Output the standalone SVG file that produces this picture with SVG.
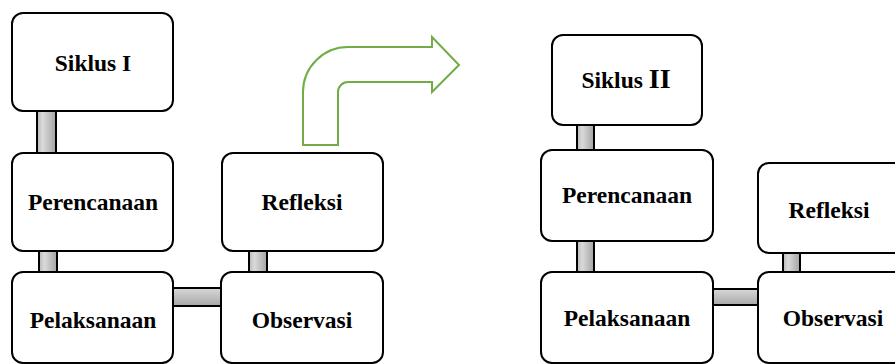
<svg xmlns="http://www.w3.org/2000/svg" width="895" height="364" viewBox="0 0 895 364">
<defs>
<linearGradient id="gv" x1="0" y1="0" x2="1" y2="0">
<stop offset="0" stop-color="#b8b8b8"/><stop offset="0.3" stop-color="#dadada"/><stop offset="1" stop-color="#a4a4a4"/>
</linearGradient>
<linearGradient id="gh" x1="0" y1="0" x2="0" y2="1">
<stop offset="0" stop-color="#d8d8d8"/><stop offset="0.4" stop-color="#c4c4c4"/><stop offset="1" stop-color="#a8a8a8"/>
</linearGradient>
</defs>
<style>
.box{fill:#fff;stroke:#000;stroke-width:2}
.cv{fill:url(#gv);stroke:#000;stroke-width:2}
.ch{fill:url(#gh);stroke:#000;stroke-width:2}
.t{font-family:"Liberation Serif","Times New Roman",serif;font-weight:bold;font-size:23.5px;text-anchor:middle;fill:#000}
.big{font-size:28px}
</style>
<rect width="895" height="364" fill="#fff"/>
<g id="connectors">
<rect class="cv" x="37" y="111" width="19" height="42"/>
<rect class="cv" x="39" y="251" width="18" height="21"/>
<rect class="ch" x="173" y="288" width="48" height="18"/>
<rect class="cv" x="249" y="251" width="18" height="21"/>
<path d="M303,145 L303,92 A45,45 0 0 1 348,47 L432,47 L432,37 L459,65 L432,92 L432,82 L348,82 A10,10 0 0 0 338,92 L338,145 Z" fill="#fff" stroke="#70ad47" stroke-width="2"/>
<rect class="cv" x="577" y="125" width="17" height="25"/>
<rect class="cv" x="577" y="241" width="17" height="31"/>
<rect class="ch" x="713" y="289" width="45" height="16"/>
<rect class="cv" x="783" y="253" width="17" height="19"/>
</g>
<g id="siklus1"><rect class="box" x="12" y="13" width="161" height="98" rx="11"/><text class="t" x="93" y="71">Siklus I</text></g>
<g id="perencanaan1"><rect class="box" x="12" y="153" width="161" height="98" rx="11"/><text class="t" x="93" y="210">Perencanaan</text></g>
<g id="refleksi1"><rect class="box" x="222" y="153" width="161" height="98" rx="11"/><text class="t" x="302" y="210">Refleksi</text></g>
<g id="pelaksanaan1"><rect class="box" x="12" y="272" width="161" height="91" rx="11"/><text class="t" x="93" y="328">Pelaksanaan</text></g>
<g id="observasi1"><rect class="box" x="221" y="272" width="162" height="91" rx="11"/><text class="t" x="302" y="328">Observasi</text></g>
<g id="siklus2"><rect class="box" x="552" y="35" width="150" height="90" rx="11"/><text class="t" x="626" y="88">Siklus <tspan class="big">II</tspan></text></g>
<g id="perencanaan2"><rect class="box" x="541" y="150" width="172" height="91" rx="11"/><text class="t" x="627" y="203">Perencanaan</text></g>
<g id="refleksi2"><rect class="box" x="758" y="163" width="150" height="90" rx="11"/><text class="t" x="829" y="218">Refleksi</text></g>
<g id="pelaksanaan2"><rect class="box" x="541" y="272" width="172" height="91" rx="11"/><text class="t" x="627" y="326">Pelaksanaan</text></g>
<g id="observasi2"><rect class="box" x="758" y="272" width="150" height="91" rx="11"/><text class="t" x="833" y="326">Observasi</text></g>
</svg>
